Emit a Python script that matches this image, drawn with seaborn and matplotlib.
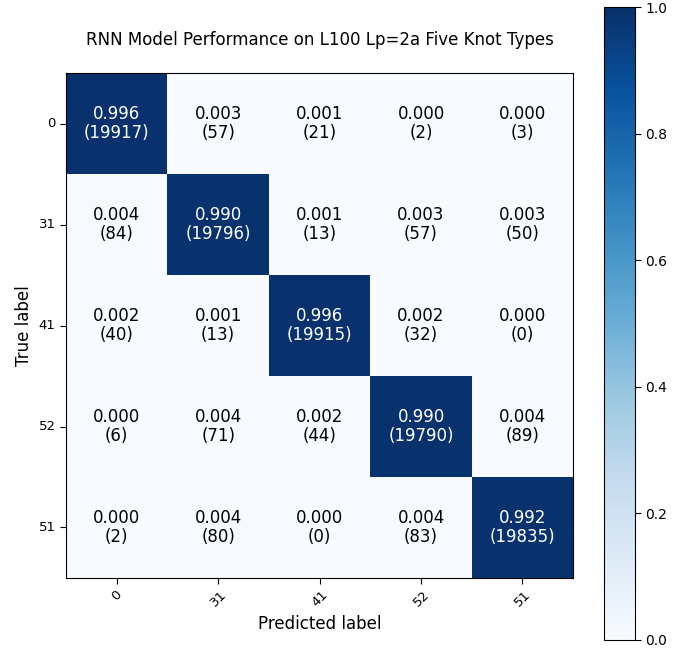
import numpy as np
import pandas as pd
import matplotlib
matplotlib.use("Agg")
import matplotlib.pyplot as plt
import seaborn as sns

# Knot type classes (row = true, column = predicted)
class_labels = ["0", "31", "41", "52", "51"]

# Raw prediction counts for each true class
counts_0 = [19917, 57, 21, 2, 3]
counts_31 = [84, 19796, 13, 57, 50]
counts_41 = [40, 13, 19915, 32, 0]
counts_52 = [6, 71, 44, 19790, 89]
counts_51 = [2, 80, 0, 83, 19835]

counts = np.array([counts_0, counts_31, counts_41, counts_52, counts_51])
norm = counts / counts.sum(axis=1, keepdims=True)

df = pd.DataFrame(norm, index=class_labels, columns=class_labels)

annot = np.empty(counts.shape, dtype=object)
for i in range(counts.shape[0]):
    for j in range(counts.shape[1]):
        annot[i, j] = f"{norm[i, j]:.3f}\n({counts[i, j]})"

fig = plt.figure(figsize=(6.9, 6.53), dpi=100)
ax = fig.add_axes([0.0957, 0.1149, 0.735, 0.773])
cax = fig.add_axes([0.875, 0.020, 0.045, 0.969])

sns.heatmap(df, ax=ax, cbar_ax=cax, cmap="Blues", vmin=0.0, vmax=1.0,
            annot=False, square=False)

thresh = norm.max() / 2.0
for i in range(counts.shape[0]):
    for j in range(counts.shape[1]):
        ax.text(j + 0.5, i + 0.5, annot[i, j], ha="center", va="center",
                fontsize=12, linespacing=1.1,
                color="white" if norm[i, j] > thresh else "black")

for s in ax.spines.values():
    s.set_visible(True)
    s.set_linewidth(0.8)
    s.set_color("black")

ax.set_title("RNN Model Performance on L100 Lp=2a Five Knot Types",
             fontsize=12, pad=20)
ax.set_xlabel("Predicted label", fontsize=12)
ax.set_ylabel("True label", fontsize=12)
ax.set_xticklabels(class_labels, rotation=45, fontsize=9.5)
ax.set_yticklabels(class_labels, rotation=0, fontsize=9.5)
ax.tick_params(axis="both", length=4, width=0.8)

cax.set_yticks([0.0, 0.2, 0.4, 0.6, 0.8, 1.0])
cax.tick_params(labelsize=10, length=4, width=0.8)
cb = ax.collections[0].colorbar
cb.outline.set_visible(True)
cb.outline.set_edgecolor("black")
cb.outline.set_linewidth(0.8)

fig.savefig("out.png", dpi=100)
